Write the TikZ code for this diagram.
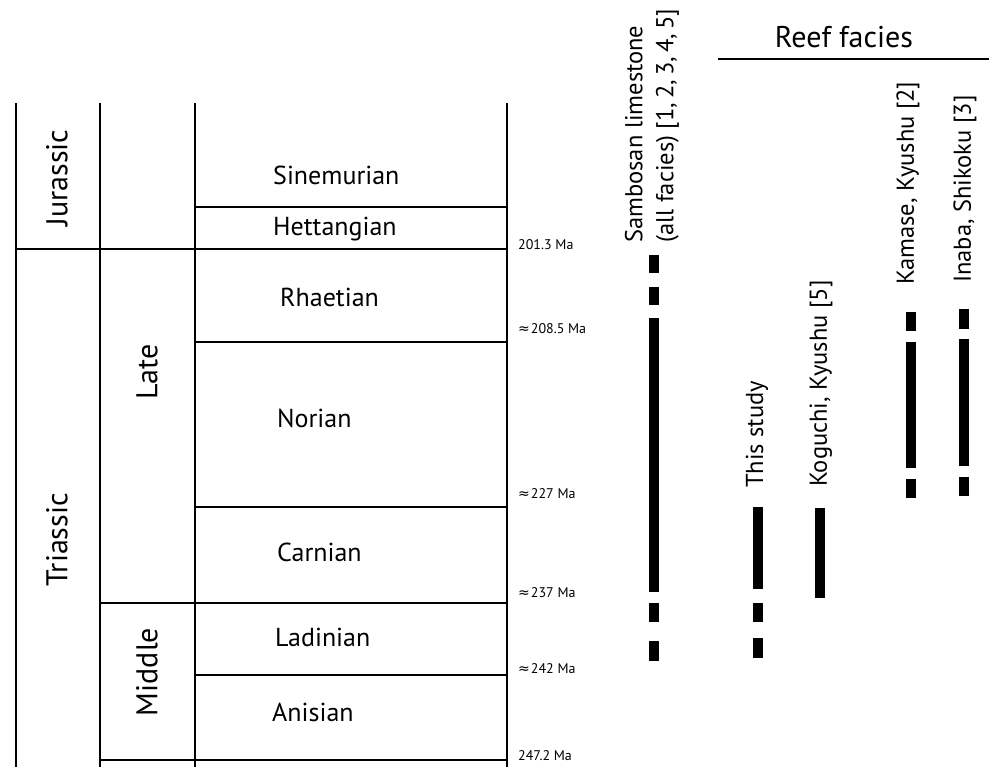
\documentclass[tikz,border=0pt]{standalone}
\usepackage{fontspec}
\setmainfont{PT Sans}
\newfontfamily\symf{DejaVu Sans}
\begin{document}
\begin{tikzpicture}[x=1pt,y=-1pt,
  gridline/.style={line width=2.6pt},
  barline/.style={line width=9.5pt},
  big/.style={font=\fontsize{30}{32}\selectfont, inner sep=0pt},
  stage/.style={font=\fontsize{26}{28}\selectfont, inner sep=0pt, anchor=west},
  age/.style={font=\fontsize{14}{16}\selectfont, inner sep=0pt, anchor=base west},
  col/.style={font=\fontsize{24.5}{31}\selectfont, inner sep=0pt, rotate=90, anchor=west, align=left},
  ]
\useasboundingbox (0,0) rectangle (989,767);
% grid
\foreach \x in {16,100,195,507} \draw[gridline] (\x,103) -- (\x,767);
\draw[gridline] (195,207) -- (507,207);
\draw[gridline] (14.7,249) -- (508.3,249);
\draw[gridline] (195,342) -- (507,342);
\draw[gridline] (195,507) -- (507,507);
\draw[gridline] (100,603) -- (508.3,603);
\draw[gridline] (195,675) -- (507,675);
\draw[gridline] (98.7,760) -- (508.3,760);
% periods / epochs
\node[big, rotate=90] (jur) at (57,178) {Jurassic};
\node[big, rotate=90] (tri) at (57,540) {Triassic};
\node[big, rotate=90] (late) at (147,372) {Late};
\node[big, rotate=90] (mid) at (147,672) {Middle};
% stages
\node[stage] (sin) at (273,175) {Sinemurian};
\node[stage] (het) at (273,229) {Hettangian};
\node[stage] (rha) at (280,297) {Rhaetian};
\node[stage] (nor) at (277,418) {Norian};
\node[stage] (car) at (277,552) {Carnian};
\node[stage] (lad) at (275,637) {Ladinian};
\node[stage] (ani) at (272,712) {Anisian};
% ages
\node[age] (a1) at (518,250) {201.3 Ma};
\node[age] (a2) at (518,334) {{\symf ≈}\kern1pt208.5 Ma};
\node[age] (a3) at (518,499) {{\symf ≈}\kern1pt227 Ma};
\node[age] (a4) at (518,597) {{\symf ≈}\kern1pt237 Ma};
\node[age] (a5) at (518,673) {{\symf ≈}\kern1pt242 Ma};
\node[age] (a6) at (518,760) {247.2 Ma};
% column labels
\node[col] (samb) at (652,243) {Sambosan limestone\\(all facies) [1,\,2,\,3,\,4,\,5]};
\node[col] (this) at (757,488) {This study};
\node[col] (kog) at (821,487) {Koguchi, Kyushu [5]};
\node[col] (kam) at (908,285) {Kamase, Kyushu [2]};
\node[col] (ina) at (965,283) {Inaba, Shikoku [3]};
% reef facies
\node[big] (reef) at (844,37) {Reef facies};
\draw[gridline] (718,59) -- (989,59);
% range bars
\foreach \a/\b in {255/273,287/305,318/592,603/622,641/661} \draw[barline] (654,\a) -- (654,\b);
\foreach \a/\b in {507/589,603/622,638/658} \draw[barline] (758,\a) -- (758,\b);
\draw[barline] (820,508) -- (820,598);
\foreach \a/\b in {312/331,342/468,479/498} \draw[barline] (911,\a) -- (911,\b);
\foreach \a/\b in {309/329,339/466,477/496} \draw[barline] (964,\a) -- (964,\b);
\end{tikzpicture}
\end{document}
